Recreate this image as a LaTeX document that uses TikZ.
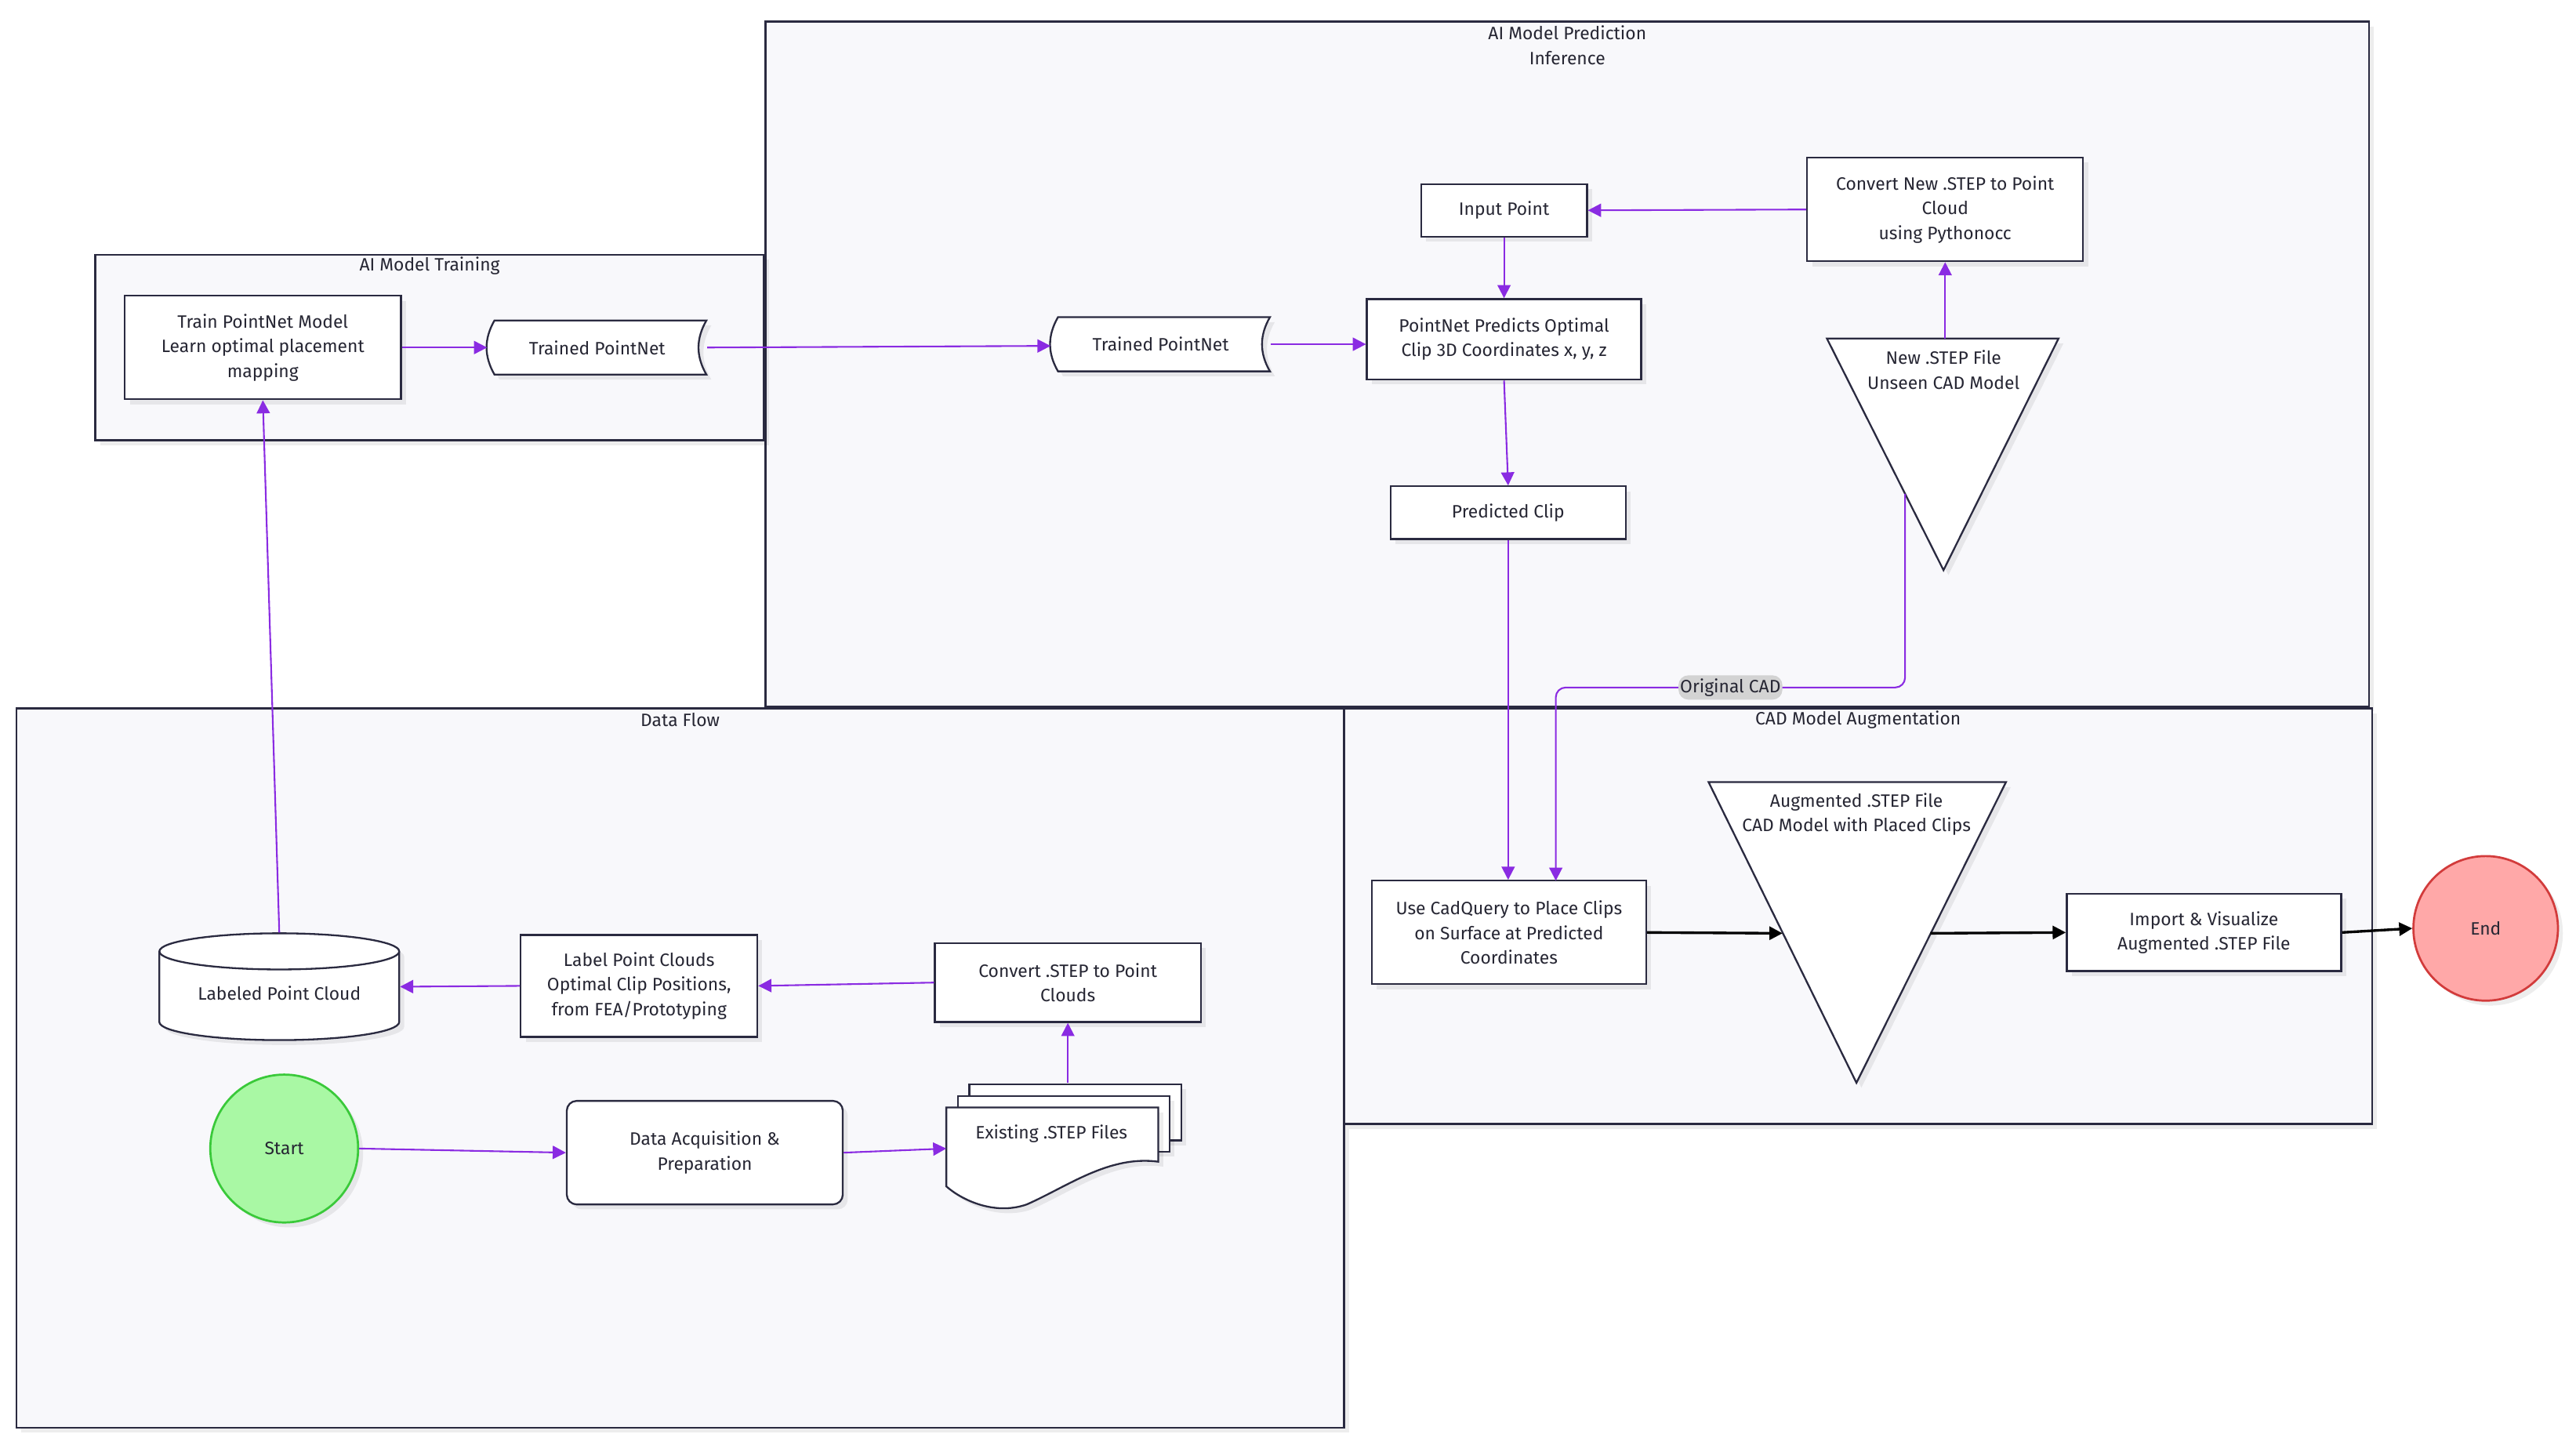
\documentclass[tikz,border=0pt]{standalone}
\usepackage{fontspec}
\setmainfont{Fira Sans}
\usetikzlibrary{arrows.meta,shadows}

\definecolor{flowc}{HTML}{8A2BE2}
\definecolor{linec}{HTML}{2A2A40}
\definecolor{textc}{HTML}{262633}
\definecolor{groupc}{HTML}{F8F8FB}
\definecolor{startc}{HTML}{A9F8A4}
\definecolor{startl}{HTML}{3AC93A}
\definecolor{endc}{HTML}{FFA8A8}
\definecolor{endl}{HTML}{D23B3B}
\definecolor{tagc}{HTML}{D3D3D3}

\begin{document}
\begin{tikzpicture}[x=1pt,y=1pt,line width=1pt,
  every node/.style={text=textc,font=\fontsize{10.9}{15}\selectfont,align=center,inner sep=0pt},
  shade3/.style={drop shadow={shadow xshift=3pt,shadow yshift=-3pt,fill=black,opacity=0.07}},
  group/.style={draw=linec,fill=groupc,line width=1.2pt,shade3},
  shapeb/.style={draw=linec,fill=white,line width=1.1pt,shade3},
  box/.style={shapeb,rectangle},
  flow/.style={draw=flowc,line width=1pt,-{Triangle[length=8pt,width=8pt]}},
  strong/.style={draw=black,line width=1.6pt,-{Triangle[length=8pt,width=8pt]}}]
\useasboundingbox (0,0) rectangle (1568,-879);

%% groupes
\filldraw[group] (466,-13) rectangle (1442,-430);
\filldraw[group] (58,-155) rectangle (465,-268);
\filldraw[group] (10,-431) rectangle (818,-869);
\filldraw[group] (818,-431) rectangle (1444,-684);
\node (tpred) at (954,-27.5) {AI Model Prediction\\Inference};
\node (ttrain) at (261.5,-162) {AI Model Training};
\node (tdata) at (414,-438) {Data Flow};
\node (tcad) at (1131,-438) {CAD Model Augmentation};

%% AI Model Training
\node[box,minimum width=168,minimum height=63] (train) at (160,-211.5) {Train PointNet Model\\Learn optimal placement\\mapping};
\filldraw[shapeb] (301,-195) -- (430,-195) to[out=240,in=120] (430,-228) -- (301,-228) to[out=120,in=240] cycle;
\node[minimum width=133,minimum height=33] (tp1) at (363.5,-211.5) {Trained PointNet};

%% AI Model Prediction
\filldraw[shapeb] (644,-193) -- (773,-193) to[out=240,in=120] (773,-226) -- (644,-226) to[out=120,in=240] cycle;
\node[minimum width=133,minimum height=33] (tp2) at (706.5,-209.5) {Trained PointNet};
\node[box,minimum width=167,minimum height=49] (pred) at (915.5,-206.5) {PointNet Predicts Optimal\\Clip 3D Coordinates x, y, z};
\node[box,minimum width=101,minimum height=32] (input) at (915.5,-128) {Input Point};
\node[box,minimum width=168,minimum height=63] (convnew) at (1184,-127.5) {Convert New .STEP to Point\\Cloud\\using Pythonocc};
\node[box,minimum width=143,minimum height=32] (clip) at (918,-312) {Predicted Clip};
% triangle New .STEP
\filldraw[shapeb] (1112,-206) -- (1253,-206) -- (1183,-347) -- cycle;
\coordinate (nstop) at (1184,-206);
\coordinate (nsout) at (1159.6,-300.6);
\node (newstep) at (1183,-225) {New .STEP File\\Unseen CAD Model};

%% CAD Model Augmentation
\node[box,minimum width=167,minimum height=63] (cadq) at (918.5,-567.5) {Use CadQuery to Place Clips\\on Surface at Predicted\\Coordinates};
\coordinate (cadin) at (947,-536);
\coordinate (cadturn) at (947,-418.4);
\filldraw[shapeb] (1040,-476) -- (1221,-476) -- (1130,-659) -- cycle;
\coordinate (augin) at (1085,-568);
\coordinate (augout) at (1175,-568);
\node (aug) at (1130,-495.5) {Augmented .STEP File\\CAD Model with Placed Clips};
\node[box,minimum width=167,minimum height=47] (import) at (1341.5,-567.5) {Import \& Visualize\\Augmented .STEP File};
\node[circle,draw=endl,fill=endc,line width=1.3pt,minimum size=88,shade3] (end) at (1513,-565) {End};

%% Data Flow
% cylindre
\filldraw[shapeb] (97,-579) -- (97,-622) arc[start angle=180,end angle=360,x radius=73,y radius=11] -- (243,-579) arc[start angle=0,end angle=180,x radius=73,y radius=11] -- cycle;
\draw[linec,line width=1.1pt] (97,-579) arc[start angle=180,end angle=360,x radius=73,y radius=11];
\node[minimum width=146,minimum height=65,text height=18pt,text depth=2pt] (lpc) at (170,-600.5) {Labeled Point Cloud};
\node[box,minimum width=144,minimum height=62] (label) at (389,-600) {Label Point Clouds\\Optimal Clip Positions,\\from FEA/Prototyping};
\node[box,minimum width=162,minimum height=48] (conv) at (650,-598) {Convert .STEP to Point\\Clouds};
\node[circle,draw=startl,fill=startc,line width=1.3pt,minimum size=90,shade3] (start) at (173,-699) {Start};
\node[box,rounded corners=6,minimum width=168,minimum height=63] (acq) at (429,-701.5) {Data Acquisition \&\\Preparation};
% documents
\foreach \d in {14,7}{
  \filldraw[shapeb] (576+\d,-674+\d) rectangle (705+\d,-708+\d);
}
\filldraw[shapeb] (576,-674) -- (705,-674) -- (705,-707) .. controls (675,-703) and (650,-722) .. (625,-733) .. controls (605,-740) and (585,-730) .. (576,-722) -- cycle;
\coordinate (exin) at (576,-699);
\coordinate (exout) at (650,-659);
\node (exist) at (640,-690) {Existing .STEP Files};

%% fleches
\draw[flow] (train.east) -- (tp1.west);
\draw[flow] (tp1.east) -- ([yshift=-1]tp2.west);
\draw[flow] (tp2.east) -- (pred.west |- tp2.east);
\draw[flow] (convnew.west) -- (input.east);
\draw[flow] (input.south) -- (pred.north);
\draw[flow] (nstop) -- (convnew.south);
\draw[flow] (pred.south) -- (clip.north);
\draw[flow] (clip.south) -- (clip.south |- cadq.north);
\draw[flow,rounded corners=6] (nsout) |- node[pos=0.75,fill=tagc,inner xsep=1pt,inner ysep=2pt] (origcad) {Original CAD} (cadturn) -- (cadin);
\draw[strong] (cadq.east) -- (augin);
\draw[strong] (augout) -- (import.west);
\draw[strong] (import.east) -- (end.west);
\draw[flow] (lpc.north) -- (train.south);
\draw[flow] (label.west) -- (lpc.east);
\draw[flow] (conv.west) -- (label.east);
\draw[flow] (exout) -- (conv.south);
\draw[flow] (start.east) -- (acq.west);
\draw[flow] (acq.east) -- (exin);

\end{tikzpicture}
\end{document}
